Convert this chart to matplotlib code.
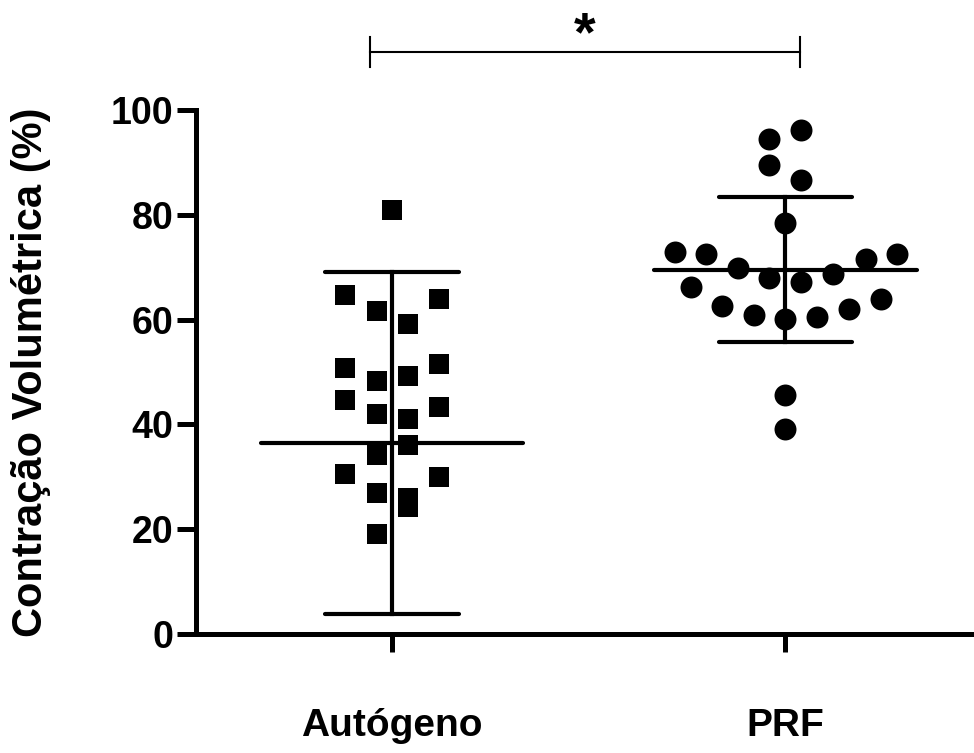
import numpy as np
import matplotlib.pyplot as plt

plt.rcParams['font.family'] = ['Liberation Sans', 'DejaVu Sans']
plt.rcParams['font.weight'] = 'bold'

# groups and read-off values
groups = ['Autógeno', 'PRF']

auto_vals = [81.0, 64.6, 61.6, 59.2, 64.0, 50.8, 48.2, 49.3, 51.5, 44.7, 41.9,
             41.1, 43.4, 34.2, 36.0, 30.5, 30.0, 26.9, 26.0, 24.2, 19.0]
auto_off = [0, -47, -15, 16, 47, -47, -15, 16, 47, -47, -15,
            16, 47, -15, 16, -47, 47, -15, 16, 16, -15]

prf_vals = [96.2, 94.4, 89.5, 86.6, 78.4, 72.8, 72.6, 69.9, 66.3, 67.9, 67.2,
            68.7, 71.5, 72.6, 62.5, 60.9, 60.2, 60.4, 62.0, 63.9, 45.6, 39.1]
prf_off = [16, -16, -16, 16, 0, -110, -79, -47, -94, -16, 16,
           48, 80, 111, -63, -31, 0, 32, 63, 95, 0, 0]

# centre line and error bar ends as drawn
centre = [36.4, 69.5]
err_low = [3.8, 55.8]
err_high = [69.1, 83.3]

px_per_unit = 393.5

fig = plt.figure(figsize=(9.74, 7.53), dpi=100)
ax = fig.add_axes([0.2012, 0.158, 1 - 0.2012, 0.696])

ax.scatter(np.array(auto_off) / px_per_unit, auto_vals, marker='s', s=215,
           color='black', linewidths=0, zorder=3, clip_on=False)
ax.scatter(1 + np.array(prf_off) / px_per_unit, prf_vals, marker='o', s=250,
           color='black', linewidths=0, zorder=3, clip_on=False)

for i in range(2):
    ax.plot([i - 0.333, i + 0.333], [centre[i], centre[i]], color='black',
            lw=3.0, solid_capstyle='round', zorder=4)
    ax.plot([i, i], [err_low[i], err_high[i]], color='black', lw=3.0, zorder=4)
    for yy in (err_low[i], err_high[i]):
        ax.plot([i - 0.17, i + 0.17], [yy, yy], color='black', lw=3.0,
                solid_capstyle='round', zorder=4)

# significance bracket
bx = [-0.056, 1.037]
ax.plot(bx, [111.1, 111.1], color='black', lw=1.5, clip_on=False)
for x in bx:
    ax.plot([x, x], [108.2, 113.9], color='black', lw=1.5, clip_on=False)
ax.text(0.49, 114.0, '*', ha='center', va='center', fontsize=40,
        fontweight='bold', clip_on=False)

ax.set_xlim(-0.498, 1.479)
ax.set_ylim(0, 100)
ax.set_yticks([0, 20, 40, 60, 80, 100])
ax.set_xticks([0, 1])
ax.set_xticklabels(groups, fontsize=28, fontweight='bold')
ax.tick_params(axis='y', labelsize=27, length=13.5, width=3.6, pad=3)
ax.tick_params(axis='x', length=13, width=3.6, pad=40)
for t in ax.get_yticklabels():
    t.set_fontweight('bold')

ax.spines['top'].set_visible(False)
ax.spines['right'].set_visible(False)
ax.spines['left'].set_linewidth(3.6)
ax.spines['bottom'].set_linewidth(3.6)

ax.set_ylabel('Contração Volumétrica (%)', fontsize=30, fontweight='bold')
ax.yaxis.set_label_coords(-0.186, 0.5)

fig.savefig('out.png', dpi=100)
